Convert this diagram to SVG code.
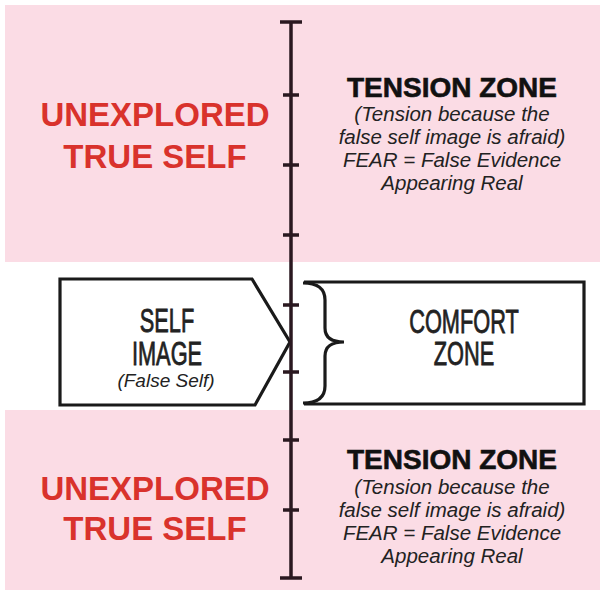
<svg xmlns="http://www.w3.org/2000/svg" width="605" height="601" viewBox="0 0 605 601">
<style>
.pink{fill:#fbdce5}
.red{font-family:"Liberation Sans",Arial,sans-serif;font-weight:bold;font-size:33px;fill:#d9322c;text-anchor:middle}
.head{font-family:"Liberation Sans",Arial,sans-serif;font-weight:bold;font-size:28px;fill:#111;stroke:#111;stroke-width:0.6;text-anchor:middle}
.it{font-family:"Liberation Sans",Arial,sans-serif;font-style:italic;font-size:20.5px;fill:#222;text-anchor:middle}
.box{fill:#fff;stroke:#1a1a1a;stroke-width:3.2;stroke-linejoin:miter}
.lab{font-family:"Liberation Sans",Arial,sans-serif;font-size:33px;fill:#222;stroke:#222;stroke-width:0.8;text-anchor:middle}
.ax{stroke:#2a1820;stroke-width:3.5;fill:none}
</style>
<rect width="605" height="601" fill="#fff"/>
<g id="top-zone">
<rect class="pink" x="5" y="5" width="595" height="257"/>
<text class="red" x="155" y="126">UNEXPLORED</text>
<text class="red" x="155" y="168">TRUE SELF</text>
<text class="head" x="452" y="97">TENSION ZONE</text>
<text class="it" x="452" y="121">(Tension because the</text>
<text class="it" x="452" y="144">false self image is afraid)</text>
<text class="it" x="452" y="167">FEAR = False Evidence</text>
<text class="it" x="452" y="190">Appearing Real</text>
</g>
<g id="bottom-zone">
<rect class="pink" x="5" y="410" width="595" height="180"/>
<text class="red" x="155" y="500">UNEXPLORED</text>
<text class="red" x="155" y="540">TRUE SELF</text>
<text class="head" x="452" y="469">TENSION ZONE</text>
<text class="it" x="452" y="494">(Tension because the</text>
<text class="it" x="452" y="517">false self image is afraid)</text>
<text class="it" x="452" y="540">FEAR = False Evidence</text>
<text class="it" x="452" y="563">Appearing Real</text>
</g>
<g id="self-image">
<path class="box" d="M60,279 L252,279 L290,342 L255,405 L60,405 Z"/>
<text class="lab" transform="translate(167,332) scale(0.66,1.03)">SELF</text>
<text class="lab" transform="translate(167,365) scale(0.66,1.03)">IMAGE</text>
<text class="it" x="166" y="387" style="font-size:19px">(False Self)</text>
</g>
<g id="comfort-zone">
<path class="box" d="M304,282 L584,282 L584,404 L304,404"/>
<path d="M303,283 Q325,283 325,300 L325,328 Q325,342 344,342 Q325,342 325,356 L325,386 Q325,403 303,403" fill="none" stroke="#1a1a1a" stroke-width="3.2"/>
<text class="lab" transform="translate(464,333) scale(0.66,1.03)">COMFORT</text>
<text class="lab" transform="translate(464,365) scale(0.66,1.03)">ZONE</text>
</g>
<g id="connectors">
<path class="ax" d="M291,22 V578 M280,22 H302 M280,578 H302 M283,95 H299 M283,165 H299 M283,235 H299 M283,305 H299 M283,372 H299 M283,440 H299 M283,510 H299"/>
</g>
</svg>
